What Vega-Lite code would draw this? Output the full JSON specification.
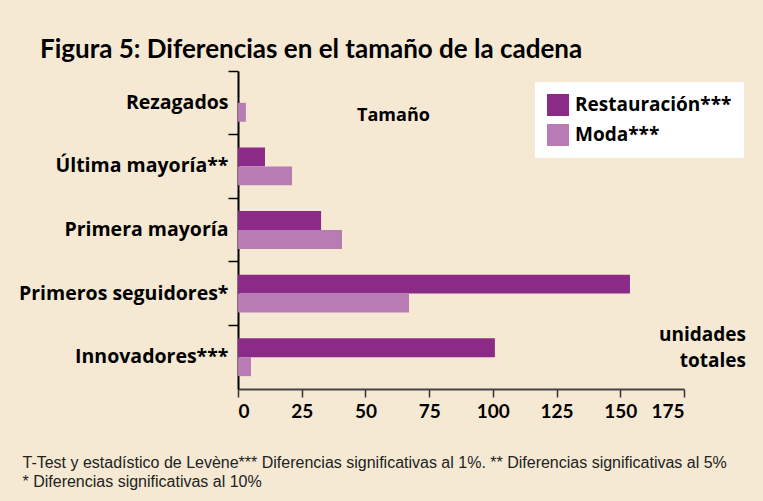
{
  "$schema": "https://vega.github.io/schema/vega-lite/v6.json",
  "width": 446,
  "height": 318,
  "autosize": {"type": "none"},
  "padding": {"left": 238, "top": 71, "right": 79, "bottom": 112},
  "background": "#F5E9D3",
  "title": {
    "text": "Figura 5: Diferencias en el tamaño de la cadena",
    "frame": "group",
    "anchor": "start",
    "dx": -198,
    "offset": -14,
    "baseline": "alphabetic",
    "font": "Lato",
    "fontSize": 26,
    "fontWeight": "bold",
    "color": "#000000"
  },
  "config": {
    "view": {"stroke": null},
    "font": "Open Sans"
  },
  "datasets": {
    "bars": [
      {"grupo": "Rezagados", "sector": "Restauración***", "valor": 0},
      {"grupo": "Rezagados", "sector": "Moda***", "valor": 3.1},
      {"grupo": "Última mayoría**", "sector": "Restauración***", "valor": 10.6},
      {"grupo": "Última mayoría**", "sector": "Moda***", "valor": 21.2},
      {"grupo": "Primera mayoría", "sector": "Restauración***", "valor": 32.6},
      {"grupo": "Primera mayoría", "sector": "Moda***", "valor": 40.8},
      {"grupo": "Primeros seguidores*", "sector": "Restauración***", "valor": 153.8},
      {"grupo": "Primeros seguidores*", "sector": "Moda***", "valor": 67.1},
      {"grupo": "Innovadores***", "sector": "Restauración***", "valor": 100.8},
      {"grupo": "Innovadores***", "sector": "Moda***", "valor": 5.1}
    ],
    "tamano": [
      {"texto": "Tamaño", "x": 61, "grupo": "Rezagados"}
    ],
    "unidades": [
      {"texto": "unidades\ntotales", "x": 175, "grupo": "Innovadores***"}
    ]
  },
  "layer": [
    {
      "data": {"name": "bars"},
      "mark": {"type": "bar"},
      "encoding": {
        "y": {
          "field": "grupo",
          "type": "nominal",
          "sort": ["Rezagados", "Última mayoría**", "Primera mayoría", "Primeros seguidores*", "Innovadores***"],
          "scale": {"paddingInner": 0, "paddingOuter": 0},
          "axis": {
            "title": null,
            "bandPosition": 0,
            "labelFont": "Open Sans",
            "labelFontSize": 19.5,
            "labelFontWeight": "bold",
            "labelColor": "#000000",
            "labelPadding": 0,
            "tickSize": 10,
            "tickWidth": 1.5,
            "tickColor": "#000000",
            "domainColor": "#000000",
            "domainWidth": 2,
            "labelLimit": 300
          }
        },
        "yOffset": {
          "field": "sector",
          "type": "nominal",
          "sort": ["Restauración***", "Moda***"],
          "scale": {"paddingInner": 0, "paddingOuter": 0.68}
        },
        "x": {
          "field": "valor",
          "type": "quantitative",
          "scale": {"domain": [0, 175], "nice": false},
          "axis": {
            "values": [0, 25, 50, 75, 100, 125, 150, 175],
            "grid": false,
            "labelFont": "Lato",
            "labelFontSize": 19,
            "labelFontWeight": "bold",
            "labelColor": "#000000",
            "labelPadding": 5,
            "tickSize": 8,
            "tickWidth": 1.5,
            "tickColor": "#333333",
            "domainColor": "#444444",
            "domainWidth": 2,
            "title": ["T-Test y estadístico de Levène*** Diferencias significativas al 1%. ** Diferencias significativas al 5%", "* Diferencias significativas al 10%"],
            "titleFont": "Liberation Sans",
            "titleFontSize": 16,
            "titleFontWeight": "normal",
            "titleColor": "#222222",
            "titleAlign": "left",
            "titleBaseline": "alphabetic",
            "titleX": -216,
            "titleY": 78,
            "titleLineHeight": 19
          }
        },
        "color": {
          "field": "sector",
          "type": "nominal",
          "sort": ["Restauración***", "Moda***"],
          "scale": {"domain": ["Restauración***", "Moda***"], "range": ["#8C2B87", "#B87CB5"]},
          "legend": {
            "title": null,
            "orient": "none",
            "legendX": 297,
            "legendY": 11,
            "fillColor": "#FFFFFF",
            "padding": 12,
            "symbolType": "square",
            "symbolSize": 484,
            "symbolStrokeWidth": 0,
            "labelFont": "Open Sans",
            "labelFontSize": 19,
            "labelFontWeight": "bold",
            "labelColor": "#000000",
            "labelOffset": 6,
            "rowPadding": 8
          }
        }
      }
    },
    {
      "data": {"name": "tamano"},
      "mark": {"type": "text", "font": "Open Sans", "fontSize": 18, "fontWeight": "bold", "color": "#000000", "align": "center", "dy": 13},
      "encoding": {
        "x": {"field": "x", "type": "quantitative"},
        "y": {"field": "grupo", "type": "nominal", "sort": ["Rezagados", "Última mayoría**", "Primera mayoría", "Primeros seguidores*", "Innovadores***"]},
        "text": {"field": "texto"}
      }
    },
    {
      "data": {"name": "unidades"},
      "mark": {"type": "text", "font": "Open Sans", "fontSize": 19, "fontWeight": "bold", "color": "#000000", "align": "right", "dx": 62, "dy": -22, "lineBreak": "\n", "lineHeight": 26},
      "encoding": {
        "x": {"field": "x", "type": "quantitative"},
        "y": {"field": "grupo", "type": "nominal", "sort": ["Rezagados", "Última mayoría**", "Primera mayoría", "Primeros seguidores*", "Innovadores***"]},
        "text": {"field": "texto"}
      }
    }
  ]
}
